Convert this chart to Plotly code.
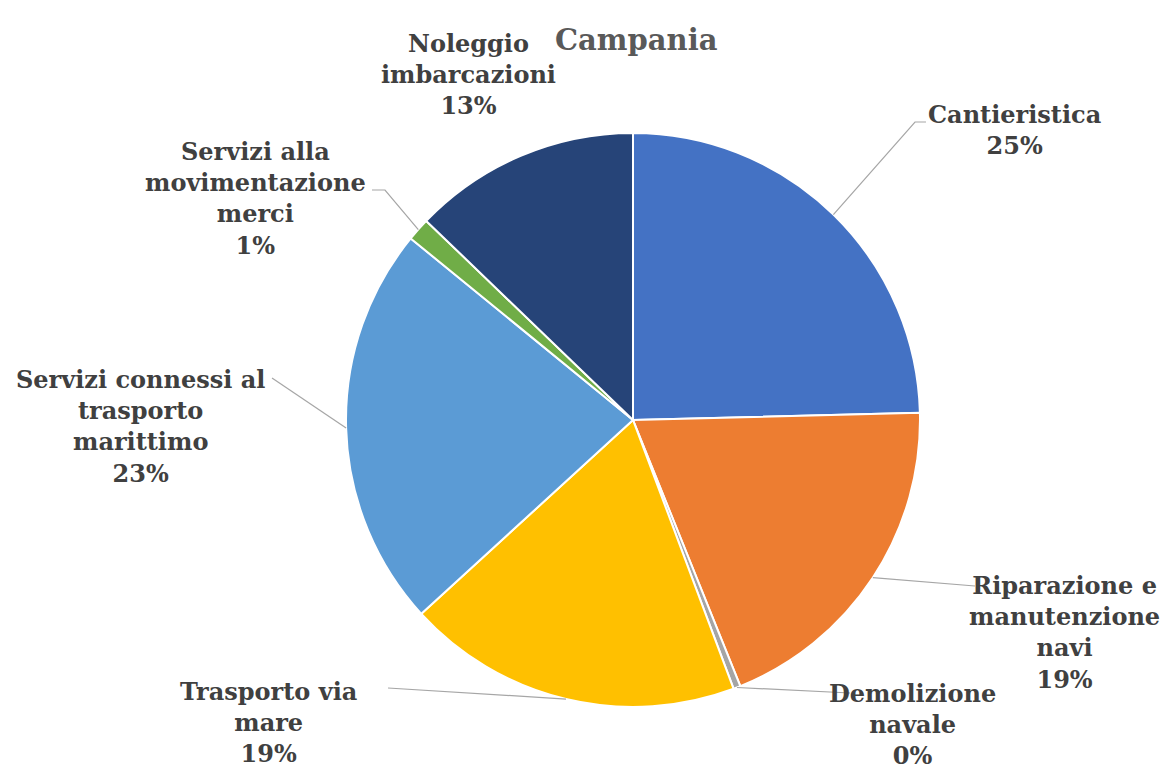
import math
import plotly.graph_objects as go

# Quote di imprese dell'economia del mare in Campania, per filiera
categories = [
    "Cantieristica",
    "Riparazione e manutenzione navi",
    "Demolizione navale",
    "Trasporto via mare",
    "Servizi connessi al trasporto marittimo",
    "Servizi alla movimentazione merci",
    "Noleggio imbarcazioni",
]
shares = [24.6, 19.3, 0.4, 18.9, 22.7, 1.3, 12.8]
label_text = [
    "Cantieristica",
    "Riparazione e<br>manutenzione<br>navi",
    "Demolizione<br>navale",
    "Trasporto via<br>mare",
    "Servizi connessi al<br>trasporto<br>marittimo",
    "Servizi alla<br>movimentazione<br>merci",
    "Noleggio<br>imbarcazioni",
]
colors = ["#4472C4", "#ED7D31", "#A5A5A5", "#FFC000", "#5B9BD5", "#70AD47", "#264478"]

W, H = 1170, 773
CX, CY, R = 633, 420, 287  # pie centre and radius in pixels
SERIF = "DejaVu Serif"

# label block centres and leader elbow points (pixels); None = no leader
label_pos = [(1014, 130), (1064, 632), (912, 724), (268, 722), (140, 426), (255, 198), (468, 75)]
leader_pts = [
    [(915, 122), (926, 122)],
    [(975, 586)],
    [(850, 693)],
    [(388, 688)],
    [(272, 378)],
    [(385, 190), (372, 190)],
    None,
]


def px(x, y):
    return x / W, 1 - y / H


fig = go.Figure(
    go.Pie(
        labels=categories,
        values=shares,
        sort=False,
        direction="clockwise",
        rotation=0,
        marker=dict(colors=colors, line=dict(color="white", width=2)),
        textinfo="none",
        hoverinfo="label+percent",
        domain=dict(x=[(CX - R) / W, (CX + R) / W], y=[(H - CY - R) / H, (H - CY + R) / H]),
        showlegend=False,
    )
)

total = sum(shares)
cum = 0.0
annotations = []
shapes = []
for name, val, txt, pos, pts in zip(categories, shares, label_text, label_pos, leader_pts):
    mid = (cum + val / 2) / total * 2 * math.pi
    cum += val
    pct = round(val / total * 100)
    lx, ly = px(*pos)
    annotations.append(dict(
        x=lx, y=ly, xref="paper", yref="paper", showarrow=False,
        text=f"<b>{txt}<br>{pct}%</b>", align="center", xanchor="center", yanchor="middle",
        font=dict(family=SERIF, size=24, color="#404040"),
    ))
    if pts:
        ex = CX + R * math.sin(mid)
        ey = CY - R * math.cos(mid)
        path_pts = [(ex, ey)] + pts
        d = "M " + " L ".join(f"{px(x, y)[0]:.5f},{px(x, y)[1]:.5f}" for x, y in path_pts)
        shapes.append(dict(type="path", path=d, xref="paper", yref="paper",
                           line=dict(color="#A6A6A6", width=1.2)))

annotations.append(dict(
    x=px(636, 40)[0], y=px(636, 40)[1], xref="paper", yref="paper", showarrow=False,
    text="<b>Campania</b>", xanchor="center", yanchor="middle",
    font=dict(family=SERIF, size=29, color="#595959"),
))

fig.update_layout(
    width=W, height=H,
    margin=dict(l=0, r=0, t=0, b=0),
    paper_bgcolor="white", plot_bgcolor="white",
    annotations=annotations, shapes=shapes,
)

fig.write_html("out.html")
